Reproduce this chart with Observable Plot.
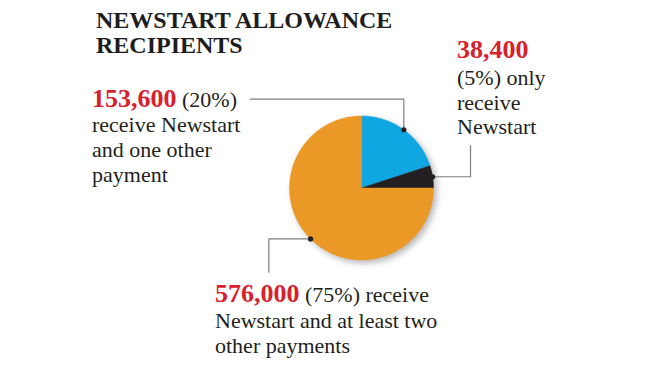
<!DOCTYPE html>
<html>
<head>
<meta charset="utf-8">
<script src="https://cdn.jsdelivr.net/npm/d3@7"></script>
<script src="https://cdn.jsdelivr.net/npm/@observablehq/plot@0.6"></script>
<style>
  html, body { margin: 0; padding: 0; background: #fff; }
  #wrap { position: relative; width: 650px; height: 366px; overflow: hidden;
          font-family: "Liberation Serif", "Times New Roman", serif; color: #231f20; }
  #wrap svg { position: absolute; left: 0; top: 0; }
  .ln { position: absolute; white-space: nowrap; font-size: 22px; line-height: 25px; }
  .num { color: #d7212b; font-weight: bold; font-size: 26px; line-height: 0; }
  .title { position: absolute; left: 96px; top: 8px; font-weight: bold; font-size: 24px;
           line-height: 25px; color: #1e1c1d; white-space: nowrap; }
</style>
</head>
<body>
<div id="wrap"></div>
<script>
// ---- data ----
const title = ["NEWSTART ALLOWANCE", "RECIPIENTS"];
const categories = ["Newstart and one other payment", "Only Newstart", "Newstart and at least two other payments"];
const recipients = [153600, 38400, 576000];
const shares = [20, 5, 75];
const colors = ["#10a6e2", "#231f20", "#ea9826"];
const labelLines = [
  ["153,600 (20%)", "receive Newstart", "and one other", "payment"],
  ["38,400", "(5%) only", "receive", "Newstart"],
  ["576,000 (75%) receive", "Newstart and at least two", "other payments"]
];

// ---- layout (pixels / radius units) ----
const W = 650, H = 366, cx = 361, cy = 187.5, R = 72;
const labelPos = [
  {x: 92, baselines: [106.7, 131.7, 156.7, 181.7]},
  {x: 457, baselines: [58.3, 85, 110, 134.3]},
  {x: 215, baselines: [301.7, 328.3, 353.3]}
];
const leaderVia = [
  {dir: "v", to: [-1.542, 1.233]},
  {dir: "h", to: [1.514, 0.59]},
  {dir: "h", to: [-1.287, -1.169]}
];

// ---- geometry from data ----
const rows = categories.map((c, i) => ({name: c, value: recipients[i]}));
const arcs = d3.pie().sort(null).value(d => d.value)(rows);
const slicePts = [];
const dots = [];
const leaderPts = [];
arcs.forEach((a, k) => {
  const key = a.data.name;
  const n = Math.max(2, Math.ceil((a.endAngle - a.startAngle) / (Math.PI / 180)));
  slicePts.push({key, x: 0, y: 0});
  for (let i = 0; i <= n; i++) {
    const t = a.startAngle + (a.endAngle - a.startAngle) * i / n;
    slicePts.push({key, x: Math.sin(t), y: Math.cos(t)});
  }
  const m = (a.startAngle + a.endAngle) / 2;
  const d = {key, x: Math.sin(m), y: Math.cos(m)};
  dots.push(d);
  const v = leaderVia[k];
  const elbow = v.dir === "v" ? {x: d.x, y: v.to[1]} : {x: v.to[0], y: d.y};
  leaderPts.push({key, x: d.x, y: d.y}, {key, ...elbow}, {key, x: v.to[0], y: v.to[1]});
});

const chart = Plot.plot({
  width: W, height: H, margin: 0,
  x: {domain: [-cx / R, (W - cx) / R], axis: null},
  y: {domain: [-(H - cy) / R, cy / R], axis: null},
  color: {domain: categories, range: colors},
  marks: [
    Plot.line(slicePts, {x: "x", y: "y", z: "key", fill: "key", stroke: "key", strokeWidth: 0.5, curve: "linear-closed"}),
    Plot.line(leaderPts, {x: "x", y: "y", z: "key", stroke: "#7d7d7d", strokeWidth: 1.2}),
    Plot.dot(dots, {x: "x", y: "y", r: 2.6, fill: "#231f20"})
  ]
});
const wrap = document.getElementById("wrap");
wrap.appendChild(chart);
const pieG = chart.querySelector('g[aria-label="line"]');
if (pieG) pieG.style.filter = "drop-shadow(3px 3px 3px rgba(0,0,0,0.28))";

// ---- text ----
const t = document.createElement("div");
t.className = "title";
t.innerHTML = title.join("<br>");
wrap.appendChild(t);

const fmt = d3.format(",");
labelLines.forEach((lines, k) => {
  const numStr = fmt(recipients[k]);
  lines.forEach((s, j) => {
    const div = document.createElement("div");
    div.className = "ln";
    div.style.left = labelPos[k].x + "px";
    div.style.top = (labelPos[k].baselines[j] - 19.9) + "px";
    if (s.startsWith(numStr)) {
      const sp = document.createElement("span");
      sp.className = "num";
      sp.textContent = numStr;
      div.appendChild(sp);
      div.appendChild(document.createTextNode(s.slice(numStr.length)));
    } else {
      div.textContent = s;
    }
    wrap.appendChild(div);
  });
});
</script>
</body>
</html>
